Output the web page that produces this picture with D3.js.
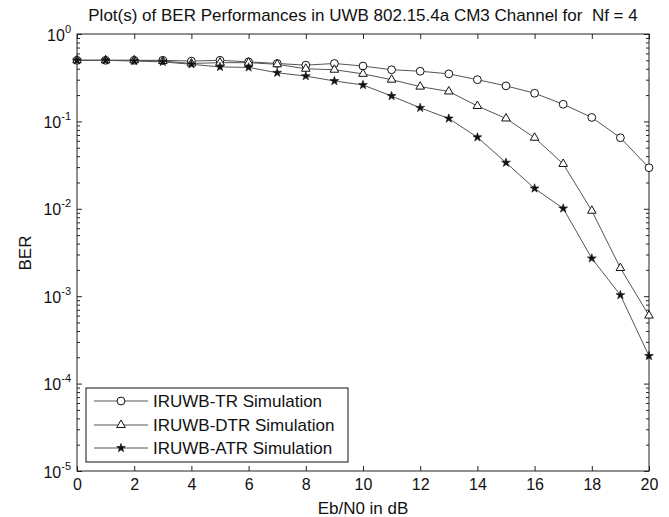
<!DOCTYPE html>
<html><head><meta charset="utf-8">
<script src="https://cdn.jsdelivr.net/npm/d3@7"></script>
<style>
body{margin:0;background:#fff;}
svg{display:block;font-family:"Liberation Sans",Arial,sans-serif;}
</style></head><body>
<svg id="c" width="669" height="517"></svg>
<script>
const ebn0 = [0,1,2,3,4,5,6,7,8,9,10,11,12,13,14,15,16,17,18,19,20];
const berTR  = [0.50,0.50,0.50,0.50,0.49,0.50,0.48,0.46,0.44,0.46,0.43,0.39,0.375,0.35,0.30,0.255,0.21,0.157,0.111,0.065,0.0295];
const berDTR = [0.50,0.50,0.50,0.49,0.46,0.47,0.47,0.45,0.40,0.39,0.35,0.30,0.25,0.22,0.15,0.108,0.065,0.0326,0.0095,0.0021,0.0006];
const berATR = [0.50,0.50,0.49,0.48,0.45,0.42,0.415,0.36,0.33,0.29,0.261,0.195,0.143,0.108,0.0658,0.0337,0.0171,0.0101,0.00271,0.00103,0.000207];
const seriesNames = ["IRUWB-TR Simulation","IRUWB-DTR Simulation","IRUWB-ATR Simulation"];
const xTicks = [0,2,4,6,8,10,12,14,16,18,20];
const yExps = [0,-1,-2,-3,-4,-5];
const titleText = "Plot(s) of BER Performances in UWB 802.15.4a CM3 Channel for\u00a0 Nf = 4";
const xLabel = "Eb/N0 in dB";
const yLabel = "BER";

const L=77,R=649,T=34,B=471;
const svg = d3.select("#c");
const x = d3.scaleLinear().domain([0,20]).range([L,R]);
const y = d3.scaleLog().domain([1e-5,1]).range([B,T]);

const majorY = yExps.map(e=>Math.pow(10,e));
const minorY = [];
for(let e=-5;e<0;e++) for(let m=2;m<=9;m++) minorY.push(m*Math.pow(10,e));

const tc = "#222";
const FF = "Liberation Sans, Arial, sans-serif";
function styleAxis(g){ g.select(".domain").remove(); g.selectAll("line").attr("stroke",tc).attr("stroke-width",1); }

// bottom
svg.append("g").attr("transform",`translate(0,${B})`)
  .call(d3.axisBottom(x).tickValues(xTicks).tickSizeInner(-5).tickSizeOuter(0).tickPadding(8).tickFormat(d3.format("d")))
  .call(styleAxis)
  .selectAll("text").attr("font-size",16).attr("fill","#111").attr("font-family",FF);
// top
svg.append("g").attr("transform",`translate(0,${T})`)
  .call(d3.axisTop(x).tickValues(xTicks).tickSizeInner(-5).tickSizeOuter(0).tickFormat(""))
  .call(styleAxis);
// left major
const gl = svg.append("g").attr("transform",`translate(${L},0)`)
  .call(d3.axisLeft(y).tickValues(majorY).tickSizeInner(-5).tickSizeOuter(0).tickFormat(""))
  .call(styleAxis);
gl.selectAll(".tick").each(function(d){
  const t = d3.select(this).append("text").attr("fill","#111").attr("x",-6).attr("y",6)
    .attr("text-anchor","end").attr("font-size",16).attr("font-family",FF);
  t.append("tspan").text("10");
  t.append("tspan").attr("font-size",11).attr("dy",-8).text(String(Math.round(Math.log10(d))));
});
svg.append("g").attr("transform",`translate(${L},0)`)
  .call(d3.axisLeft(y).tickValues(minorY).tickSizeInner(-3).tickSizeOuter(0).tickFormat(""))
  .call(styleAxis);
// right
svg.append("g").attr("transform",`translate(${R},0)`)
  .call(d3.axisRight(y).tickValues(majorY).tickSizeInner(-5).tickSizeOuter(0).tickFormat(""))
  .call(styleAxis);
svg.append("g").attr("transform",`translate(${R},0)`)
  .call(d3.axisRight(y).tickValues(minorY).tickSizeInner(-3).tickSizeOuter(0).tickFormat(""))
  .call(styleAxis);

// box
svg.append("rect").attr("x",L).attr("y",T).attr("width",R-L).attr("height",B-T)
  .attr("fill","none").attr("stroke",tc).attr("stroke-width",1);

// series
const series = [berTR,berDTR,berATR];
const line = d3.line().x((d,i)=>x(ebn0[i])).y(d=>y(d));
const symCircle = d3.symbol().type(d3.symbolCircle).size(48);
const symTri = d3.symbol().type(d3.symbolTriangle).size(32);
const symStar = d3.symbol().type(d3.symbolStar).size(24);
function drawMarker(g, k, cx, cy){
  if(k===0) g.append("path").attr("d",symCircle()).attr("transform",`translate(${cx},${cy})`).attr("fill","#fff").attr("stroke","#111").attr("stroke-width",1);
  else if(k===1) g.append("path").attr("d",symTri()).attr("transform",`translate(${cx},${cy})`).attr("fill","#fff").attr("stroke","#111").attr("stroke-width",1);
  else g.append("path").attr("d",symStar()).attr("transform",`translate(${cx},${cy})`).attr("fill","#111").attr("stroke","#111").attr("stroke-width",0.6);
}
series.forEach((s,k)=>{
  svg.append("path").datum(s).attr("d",line).attr("fill","none").attr("stroke","#555").attr("stroke-width",1);
});
series.forEach((s,k)=>{
  const g = svg.append("g");
  s.forEach((v,i)=>drawMarker(g,k,x(ebn0[i]),y(v)));
});

// legend
const lg = svg.append("g");
lg.append("rect").attr("x",86).attr("y",388).attr("width",262).attr("height",74)
  .attr("fill","#fff").attr("stroke","#111").attr("stroke-width",1);
const rowsY = [401,425,448];
seriesNames.forEach((n,k)=>{
  lg.append("line").attr("x1",94).attr("x2",148).attr("y1",rowsY[k]).attr("y2",rowsY[k]).attr("stroke","#555").attr("stroke-width",1);
  drawMarker(lg,k,121,rowsY[k]);
  lg.append("text").attr("x",153).attr("y",rowsY[k]+6).attr("font-size",17).attr("fill","#111").text(n);
});

// titles
svg.append("text").attr("x",(L+R)/2).attr("y",21).attr("text-anchor","middle").attr("font-size",17).attr("fill","#111").text(titleText);
svg.append("text").attr("x",(L+R)/2).attr("y",514).attr("text-anchor","middle").attr("font-size",17).attr("fill","#111").text(xLabel);
svg.append("text").attr("transform","translate(31,253) rotate(-90)").attr("text-anchor","middle").attr("font-size",17).attr("fill","#111").text(yLabel);
</script>
</body></html>
